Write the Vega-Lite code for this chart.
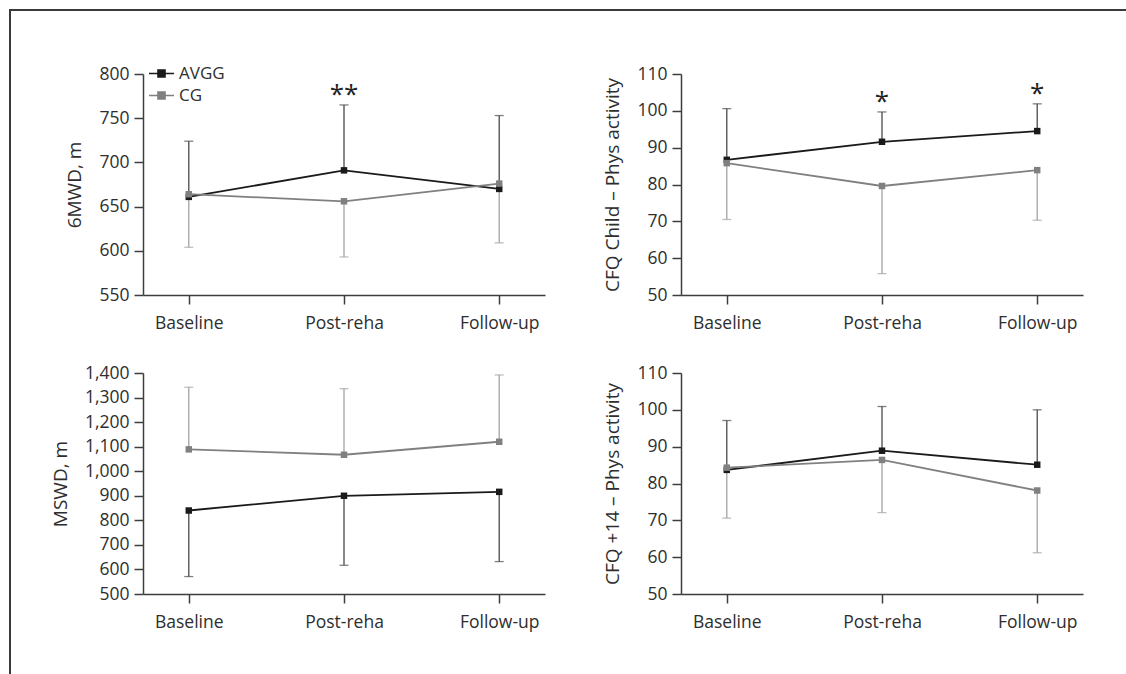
{
  "$schema": "https://vega.github.io/schema/vega-lite/v6.json",
  "padding": {"left": 9, "top": 9, "right": 0, "bottom": 0},
  "background": "white",
  "datasets": {
    "d1": [
      {"group": "AVGG", "time": "Baseline", "mean": 661, "bound": 724},
      {"group": "AVGG", "time": "Post-reha", "mean": 691, "bound": 765},
      {"group": "AVGG", "time": "Follow-up", "mean": 670, "bound": 753},
      {"group": "CG", "time": "Baseline", "mean": 664, "bound": 604},
      {"group": "CG", "time": "Post-reha", "mean": 656, "bound": 593},
      {"group": "CG", "time": "Follow-up", "mean": 676, "bound": 609}
    ],
    "d2": [
      {"group": "AVGG", "time": "Baseline", "mean": 86.7, "bound": 100.6},
      {"group": "AVGG", "time": "Post-reha", "mean": 91.6, "bound": 99.7},
      {"group": "AVGG", "time": "Follow-up", "mean": 94.5, "bound": 101.9},
      {"group": "CG", "time": "Baseline", "mean": 85.8, "bound": 70.5},
      {"group": "CG", "time": "Post-reha", "mean": 79.6, "bound": 55.8},
      {"group": "CG", "time": "Follow-up", "mean": 83.9, "bound": 70.3}
    ],
    "d3": [
      {"group": "AVGG", "time": "Baseline", "mean": 840, "bound": 571},
      {"group": "AVGG", "time": "Post-reha", "mean": 900, "bound": 617},
      {"group": "AVGG", "time": "Follow-up", "mean": 916, "bound": 632},
      {"group": "CG", "time": "Baseline", "mean": 1089, "bound": 1342},
      {"group": "CG", "time": "Post-reha", "mean": 1067, "bound": 1336},
      {"group": "CG", "time": "Follow-up", "mean": 1120, "bound": 1392}
    ],
    "d4": [
      {"group": "AVGG", "time": "Baseline", "mean": 83.7, "bound": 97.1},
      {"group": "AVGG", "time": "Post-reha", "mean": 88.9, "bound": 100.9},
      {"group": "AVGG", "time": "Follow-up", "mean": 85.1, "bound": 100.0},
      {"group": "CG", "time": "Baseline", "mean": 84.3, "bound": 70.6},
      {"group": "CG", "time": "Post-reha", "mean": 86.4, "bound": 72.1},
      {"group": "CG", "time": "Follow-up", "mean": 78.1, "bound": 61.2}
    ],
    "s1": [{"time": "Post-reha", "pos": 776, "label": "**"}],
    "s2": [
      {"time": "Post-reha", "pos": 102.4, "label": "*"},
      {"time": "Follow-up", "pos": 104.5, "label": "*"}
    ]
  },
  "config": {
    "font": "Open Sans",
    "view": {"stroke": null},
    "axis": {
      "domainColor": "#3d3d3d", "domainWidth": 1.5,
      "tickColor": "#3d3d3d", "tickWidth": 1.5, "tickSize": 9,
      "grid": false,
      "labelFont": "Open Sans", "labelFontSize": 17.5, "labelColor": "#2e2e2e",
      "titleFont": "Open Sans", "titleFontSize": 19, "titleFontWeight": "normal", "titleColor": "#2e2e2e",
      "labelPadding": 5, "titlePadding": 14, "labelOverlap": false
    },
    "axisX": {"labelPadding": 10, "labelAngle": 0}
  },
  "columns": 5,
  "align": "each",
  "bounds": "flush",
  "spacing": 0,
  "resolve": {"scale": {"color": "independent"}},
  "concat": [
    {"width": 2, "height": 2, "view": {"fill": "#3a3a3a", "stroke": null}, "data": {"values": []}, "mark": "rule", "encoding": {}},
    {"width": 132, "height": 2, "view": {"fill": "#3a3a3a", "stroke": null}, "data": {"values": []}, "mark": "rule", "encoding": {}},
    {"width": 402, "height": 2, "view": {"fill": "#3a3a3a", "stroke": null}, "data": {"values": []}, "mark": "rule", "encoding": {}},
    {"width": 136, "height": 2, "view": {"fill": "#3a3a3a", "stroke": null}, "data": {"values": []}, "mark": "rule", "encoding": {}},
    {"width": 445, "height": 2, "view": {"fill": "#3a3a3a", "stroke": null}, "data": {"values": []}, "mark": "rule", "encoding": {}},

    {"width": 2, "height": 63, "view": {"fill": "#3a3a3a", "stroke": null}, "data": {"values": []}, "mark": "rule", "encoding": {}},
    {"width": 1, "height": 1, "data": {"values": []}, "mark": "rule", "encoding": {}},
    {"width": 1, "height": 1, "data": {"values": []}, "mark": "rule", "encoding": {}},
    {"width": 1, "height": 1, "data": {"values": []}, "mark": "rule", "encoding": {}},
    {"width": 1, "height": 1, "data": {"values": []}, "mark": "rule", "encoding": {}},

    {"width": 2, "height": 221, "view": {"fill": "#3a3a3a", "stroke": null}, "data": {"values": []}, "mark": "rule", "encoding": {}},
    {"width": 1, "height": 1, "data": {"values": []}, "mark": "rule", "encoding": {}},
    {
      "width": 402, "height": 221,
      "data": {"name": "d1"},
      "encoding": {"x": {"field": "time", "type": "nominal", "title": null, "scale": {"type": "point", "domain": ["Baseline", "Post-reha", "Follow-up"], "padding": 0.295}}},
      "layer": [
        {"mark": {"type": "rule", "strokeWidth": 1.3},
         "encoding": {"y": {"field": "mean", "type": "quantitative", "title": "6MWD, m", "scale": {"domain": [550, 800], "nice": false}, "axis": {"values": [550, 600, 650, 700, 750, 800], "labelOverlap": false}},
                      "y2": {"field": "bound"},
                      "color": {"condition": {"test": "datum.group === 'AVGG'", "value": "#4a4a4a"}, "value": "#a3a3a3"}}},
        {"mark": {"type": "tick", "orient": "horizontal", "size": 9, "thickness": 1.3},
         "encoding": {"y": {"field": "bound", "type": "quantitative", "title": "6MWD, m", "axis": {"values": [550, 600, 650, 700, 750, 800], "labelOverlap": false}},
                      "color": {"condition": {"test": "datum.group === 'AVGG'", "value": "#4a4a4a"}, "value": "#a3a3a3"}}},
        {"mark": {"type": "line", "strokeWidth": 1.8, "point": {"shape": "square", "size": 42, "filled": true}},
         "encoding": {"y": {"field": "mean", "type": "quantitative", "title": "6MWD, m", "axis": {"values": [550, 600, 650, 700, 750, 800], "labelOverlap": false}},
                      "color": {"field": "group", "type": "nominal", "scale": {"domain": ["AVGG", "CG"], "range": ["#1a1a1a", "#808080"]},
                                "legend": {"orient": "none", "legendX": 10, "legendY": -9, "title": null,
                                           "symbolType": "M-2.5,0H2.5M-0.7,-0.7H0.7V0.7H-0.7Z", "symbolSize": 100, "symbolStrokeWidth": 1.6,
                                           "labelFont": "Open Sans", "labelFontSize": 17, "labelColor": "#2e2e2e", "labelOffset": 9, "rowPadding": 4, "padding": 0,
                                           "encode": {"symbols": {"update": {"fill": {"signal": "datum.value === 'AVGG' ? '#1a1a1a' : '#808080'"}}}}}}}},
        {"data": {"name": "s1"}, "mark": {"type": "text", "fontSize": 26, "baseline": "middle", "color": "#222222"},
         "encoding": {"y": {"field": "pos", "type": "quantitative", "title": "6MWD, m", "axis": {"values": [550, 600, 650, 700, 750, 800], "labelOverlap": false}}, "text": {"field": "label"}}}
      ]
    },
    {"width": 1, "height": 1, "data": {"values": []}, "mark": "rule", "encoding": {}},
    {
      "width": 402, "height": 221,
      "data": {"name": "d2"},
      "encoding": {"x": {"field": "time", "type": "nominal", "title": null, "scale": {"type": "point", "domain": ["Baseline", "Post-reha", "Follow-up"], "padding": 0.295}}},
      "layer": [
        {"mark": {"type": "rule", "strokeWidth": 1.3},
         "encoding": {"y": {"field": "mean", "type": "quantitative", "title": "CFQ Child – Phys activity", "scale": {"domain": [50, 110], "nice": false}, "axis": {"values": [50, 60, 70, 80, 90, 100, 110], "labelOverlap": false}},
                      "y2": {"field": "bound"},
                      "color": {"condition": {"test": "datum.group === 'AVGG'", "value": "#4a4a4a"}, "value": "#a3a3a3"}}},
        {"mark": {"type": "tick", "orient": "horizontal", "size": 9, "thickness": 1.3},
         "encoding": {"y": {"field": "bound", "type": "quantitative", "title": "CFQ Child – Phys activity", "axis": {"values": [50, 60, 70, 80, 90, 100, 110], "labelOverlap": false}},
                      "color": {"condition": {"test": "datum.group === 'AVGG'", "value": "#4a4a4a"}, "value": "#a3a3a3"}}},
        {"mark": {"type": "line", "strokeWidth": 1.8, "point": {"shape": "square", "size": 42, "filled": true}},
         "encoding": {"y": {"field": "mean", "type": "quantitative", "title": "CFQ Child – Phys activity", "axis": {"values": [50, 60, 70, 80, 90, 100, 110], "labelOverlap": false}},
                      "color": {"field": "group", "type": "nominal", "scale": {"domain": ["AVGG", "CG"], "range": ["#1a1a1a", "#808080"]}, "legend": null}}},
        {"data": {"name": "s2"}, "mark": {"type": "text", "fontSize": 26, "baseline": "middle", "color": "#222222"},
         "encoding": {"y": {"field": "pos", "type": "quantitative", "title": "CFQ Child – Phys activity", "axis": {"values": [50, 60, 70, 80, 90, 100, 110], "labelOverlap": false}}, "text": {"field": "label"}}}
      ]
    },

    {"width": 2, "height": 78, "view": {"fill": "#3a3a3a", "stroke": null}, "data": {"values": []}, "mark": "rule", "encoding": {}},
    {"width": 1, "height": 1, "data": {"values": []}, "mark": "rule", "encoding": {}},
    {"width": 1, "height": 1, "data": {"values": []}, "mark": "rule", "encoding": {}},
    {"width": 1, "height": 1, "data": {"values": []}, "mark": "rule", "encoding": {}},
    {"width": 1, "height": 1, "data": {"values": []}, "mark": "rule", "encoding": {}},

    {"width": 2, "height": 301, "view": {"fill": "#3a3a3a", "stroke": null}, "data": {"values": []}, "mark": "rule", "encoding": {}},
    {"width": 1, "height": 1, "data": {"values": []}, "mark": "rule", "encoding": {}},
    {
      "width": 402, "height": 221,
      "data": {"name": "d3"},
      "encoding": {"x": {"field": "time", "type": "nominal", "title": null, "scale": {"type": "point", "domain": ["Baseline", "Post-reha", "Follow-up"], "padding": 0.295}}},
      "layer": [
        {"mark": {"type": "rule", "strokeWidth": 1.3},
         "encoding": {"y": {"field": "mean", "type": "quantitative", "title": "MSWD, m", "scale": {"domain": [500, 1400], "nice": false}, "axis": {"values": [500, 600, 700, 800, 900, 1000, 1100, 1200, 1300, 1400], "format": ",.0f", "labelOverlap": false}},
                      "y2": {"field": "bound"},
                      "color": {"condition": {"test": "datum.group === 'AVGG'", "value": "#4a4a4a"}, "value": "#a3a3a3"}}},
        {"mark": {"type": "tick", "orient": "horizontal", "size": 9, "thickness": 1.3},
         "encoding": {"y": {"field": "bound", "type": "quantitative", "title": "MSWD, m", "axis": {"values": [500, 600, 700, 800, 900, 1000, 1100, 1200, 1300, 1400], "format": ",.0f", "labelOverlap": false}},
                      "color": {"condition": {"test": "datum.group === 'AVGG'", "value": "#4a4a4a"}, "value": "#a3a3a3"}}},
        {"mark": {"type": "line", "strokeWidth": 1.8, "point": {"shape": "square", "size": 42, "filled": true}},
         "encoding": {"y": {"field": "mean", "type": "quantitative", "title": "MSWD, m", "axis": {"values": [500, 600, 700, 800, 900, 1000, 1100, 1200, 1300, 1400], "format": ",.0f", "labelOverlap": false}},
                      "color": {"field": "group", "type": "nominal", "scale": {"domain": ["AVGG", "CG"], "range": ["#1a1a1a", "#808080"]}, "legend": null}}}
      ]
    },
    {"width": 1, "height": 1, "data": {"values": []}, "mark": "rule", "encoding": {}},
    {
      "width": 402, "height": 221,
      "data": {"name": "d4"},
      "encoding": {"x": {"field": "time", "type": "nominal", "title": null, "scale": {"type": "point", "domain": ["Baseline", "Post-reha", "Follow-up"], "padding": 0.295}}},
      "layer": [
        {"mark": {"type": "rule", "strokeWidth": 1.3},
         "encoding": {"y": {"field": "mean", "type": "quantitative", "title": "CFQ +14 – Phys activity", "scale": {"domain": [50, 110], "nice": false}, "axis": {"values": [50, 60, 70, 80, 90, 100, 110], "labelOverlap": false}},
                      "y2": {"field": "bound"},
                      "color": {"condition": {"test": "datum.group === 'AVGG'", "value": "#4a4a4a"}, "value": "#a3a3a3"}}},
        {"mark": {"type": "tick", "orient": "horizontal", "size": 9, "thickness": 1.3},
         "encoding": {"y": {"field": "bound", "type": "quantitative", "title": "CFQ +14 – Phys activity", "axis": {"values": [50, 60, 70, 80, 90, 100, 110], "labelOverlap": false}},
                      "color": {"condition": {"test": "datum.group === 'AVGG'", "value": "#4a4a4a"}, "value": "#a3a3a3"}}},
        {"mark": {"type": "line", "strokeWidth": 1.8, "point": {"shape": "square", "size": 42, "filled": true}},
         "encoding": {"y": {"field": "mean", "type": "quantitative", "title": "CFQ +14 – Phys activity", "axis": {"values": [50, 60, 70, 80, 90, 100, 110], "labelOverlap": false}},
                      "color": {"field": "group", "type": "nominal", "scale": {"domain": ["AVGG", "CG"], "range": ["#1a1a1a", "#808080"]}, "legend": null}}}
      ]
    }
  ]
}
